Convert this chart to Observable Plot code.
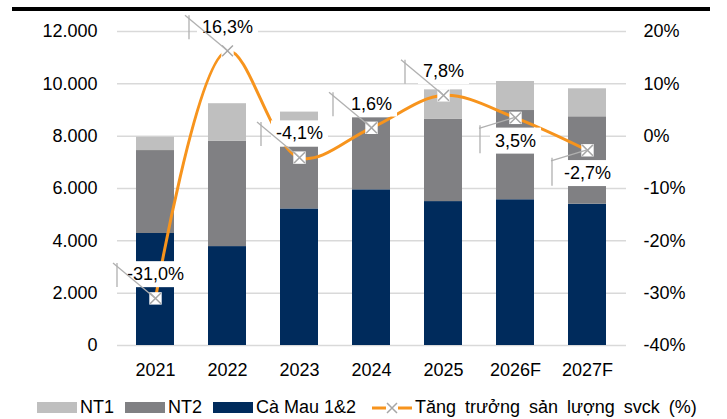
<!DOCTYPE html>
<html><head><meta charset="utf-8">
<script src="https://cdn.jsdelivr.net/npm/d3@7"></script>
<script src="https://cdn.jsdelivr.net/npm/@observablehq/plot@0.6"></script>
<style>
body{margin:0;background:#fff;font-family:"Liberation Sans",Arial,sans-serif;}
#wrap{position:relative;width:727px;height:419px;overflow:hidden;}
#topline{position:absolute;left:12px;top:7px;width:698px;height:4px;background:#000;}
#legend{position:absolute;left:0;top:392px;height:31px;width:727px;font-size:18px;color:#000;}
.item{position:absolute;top:0;display:flex;align-items:center;height:31px;white-space:nowrap;}
.sw{width:40px;height:11px;margin-right:3px;}
</style></head><body>
<div id="wrap"><div id="chart"></div><div id="topline"></div><div id="legend"></div></div>
<script>
// ---- data ----
const years = ["2021","2022","2023","2024","2025","2026F","2027F"];
const caMau = [4280, 3780, 5220, 5950, 5500, 5570, 5400];
const nt2   = [3170, 4020, 2360, 2750, 3140, 3410, 3340];
const nt1   = [ 510, 1440, 1340,    0, 1130, 1110, 1070];
const growth = [-31.0, 16.3, -4.1, 1.6, 7.8, 3.5, -2.7];
const growthLabels = ["-31,0%","16,3%","-4,1%","1,6%","7,8%","3,5%","-2,7%"];
const labelBelow = [false,false,false,false,false,true,true];
const leftTicks = [0,2000,4000,6000,8000,10000,12000];
const rightTicks = [-40,-30,-20,-10,0,10,20];
const seriesNames = ["Cà Mau 1&2","NT2","NT1"];
const seriesColors = ["#002b5c","#808083","#bfbfbf"];
const lineName = "Tăng trưởng sản lượng svck (%)";

// ---- derived tables ----
const toLeft = p => (p + 40) * 200; // right axis (-40..20%) onto left axis (0..12000)
const rows = years.flatMap((yr, i) => [
  {year: yr, series: seriesNames[0], value: caMau[i]},
  {year: yr, series: seriesNames[1], value: nt2[i]},
  {year: yr, series: seriesNames[2], value: nt1[i]}
]);
const gdata = years.map((yr, i) => ({year: yr, g: growth[i], label: growthLabels[i], below: labelBelow[i]}));
const loc = d3.formatLocale({decimal: ",", thousands: ".", grouping: [3], currency: ["", ""]});
const fmt = loc.format(",");

const plot = Plot.plot({
  width: 727, height: 392,
  marginTop: 31, marginBottom: 47, marginLeft: 117, marginRight: 101,
  style: {fontFamily: "'Liberation Sans', Arial, sans-serif", fontSize: "18px", color: "#000", background: "transparent"},
  x: {domain: years, paddingInner: 0.47, paddingOuter: 0.235, axis: null},
  y: {domain: [0, 12000], axis: null},
  color: {domain: seriesNames, range: seriesColors},
  marks: [
    Plot.ruleY(leftTicks, {stroke: "#d9d9d9", strokeWidth: 1.5}),
    Plot.barY(rows, {x: "year", y: "value", fill: "series", order: seriesNames}),
    Plot.line(gdata, {x: "year", y: d => toLeft(d.g), stroke: "#f7941d", strokeWidth: 3, curve: "catmull-rom"}),
    Plot.dot(gdata, {x: "year", y: d => toLeft(d.g), symbol: "square", r: 7, fill: "white", stroke: "none"}),
    Plot.dot(gdata, {x: "year", y: d => toLeft(d.g), symbol: "times", r: 5, stroke: "#a6a6a6", strokeWidth: 1.5}),
    Plot.text(gdata.filter(d => !d.below), {x: "year", y: d => toLeft(d.g), text: "label", dy: -24, fontSize: 18, fill: "#000", className: "glabel"}),
    Plot.text(gdata.filter(d => d.below), {x: "year", y: d => toLeft(d.g), text: "label", dy: 23, fontSize: 18, fill: "#000", className: "glabel"}),
    Plot.axisX({tickSize: 0, tickPadding: 18, fontSize: 18, label: null}),
    Plot.axisY(leftTicks, {anchor: "left", tickSize: 0, tickPadding: 20, fontSize: 18, tickFormat: fmt, label: null}),
    Plot.axisY(rightTicks.map(toLeft), {anchor: "right", tickSize: 0, tickPadding: 17, fontSize: 18, textAnchor: "start", tickFormat: v => Math.round(v / 200 - 40) + "%", label: null})
  ]
});
document.getElementById("chart").appendChild(plot);

// white boxes behind data labels
d3.select(plot).selectAll("g.glabel text").each(function() {
  const b = this.getBBox();
  const padX = 5, padY = 3;
  const r = document.createElementNS("http://www.w3.org/2000/svg", "rect");
  r.setAttribute("x", b.x - padX);
  r.setAttribute("y", b.y - padY);
  r.setAttribute("width", b.width + 2 * padX);
  r.setAttribute("height", b.height + 2 * padY);
  r.setAttribute("fill", "white");
  const t = this.getAttribute("transform");
  if (t) r.setAttribute("transform", t);
  this.parentNode.insertBefore(r, this);
});

// leader lines via the plot's own scales
const sx = plot.scale("x"), sy = plot.scale("y");
const svg = d3.select(plot);
const lead = svg.append("g").attr("stroke", "#b0b0b0").attr("stroke-width", 1.3).attr("fill", "none");
gdata.forEach(d => {
  const mx = sx.apply(d.year) + sx.bandwidth / 2;
  const my = sy.apply(toLeft(d.g));
  if (!d.below) {
    const cx = mx - 42, cy = my - 35;
    lead.append("line").attr("x1", mx).attr("y1", my).attr("x2", cx).attr("y2", cy);
    lead.append("line").attr("x1", cx + 4).attr("y1", cy).attr("x2", cx + 4).attr("y2", cy + 24);
  } else {
    const cx = mx - 36, cy = my + 11;
    lead.append("line").attr("x1", mx).attr("y1", my).attr("x2", cx).attr("y2", cy);
    lead.append("line").attr("x1", cx + 1).attr("y1", cy - 3).attr("x2", cx + 1).attr("y2", cy + 25);
  }
});

// legend
const legend = document.getElementById("legend");
const lefts = [213, 125, 37];
seriesNames.forEach((name, i) => {
  const it = document.createElement("div");
  it.className = "item";
  it.style.left = lefts[i] + "px";
  it.innerHTML = `<div class="sw" style="background:${seriesColors[i]}"></div><span>${name}</span>`;
  legend.appendChild(it);
});
const li = document.createElement("div");
li.className = "item";
li.style.left = "372px";
li.innerHTML = `<svg width="40" height="14" style="margin-right:3px"><line x1="0" y1="7" x2="40" y2="7" stroke="#f7941d" stroke-width="3"/><rect x="14" y="1" width="12" height="12" fill="white"/><path d="M15,2L25,12M25,2L15,12" stroke="#a6a6a6" stroke-width="1.5"/></svg><span style="word-spacing:4px">${lineName}</span>`;
legend.appendChild(li);
</script>
</body></html>
